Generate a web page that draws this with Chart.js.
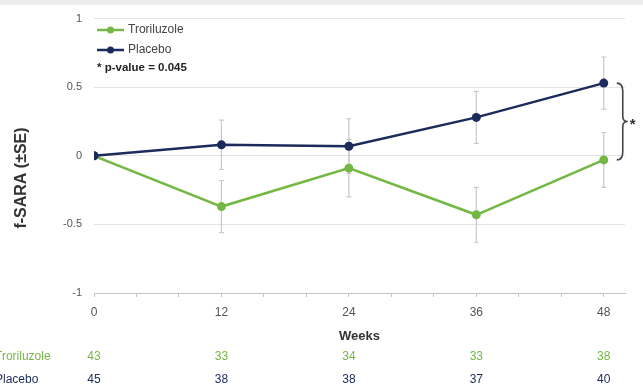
<!DOCTYPE html>
<html>
<head>
<meta charset="utf-8">
<script src="https://cdn.jsdelivr.net/npm/chart.js@4.4.1/dist/chart.umd.min.js"></script>
<style>
    html, body { margin: 0; padding: 0; background: #ffffff; }
    #wrap { width: 643px; height: 390px; position: relative; }
</style>
</head>
<body>
<div id="wrap"><canvas id="grafico"></canvas></div>
<script>
// Dados
const weeks = [0, 12, 24, 36, 48];
const placebo = [0, 0.08, 0.07, 0.28, 0.53];
const placeboSE = [0, 0.18, 0.20, 0.19, 0.19];
const troriluzole = [0, -0.37, -0.09, -0.43, -0.03];
const troriluzoleSE = [0, 0.19, 0.21, 0.20, 0.20];
const nTroriluzole = [43, 33, 34, 33, 38];
const nPlacebo = [45, 38, 38, 37, 40];
const yTicks = [-1, -0.5, 0, 0.5, 1];
const xMinorTicks = [0, 4, 8, 12, 16, 20, 24, 28, 32, 36, 40, 44, 48];

const COLORS = {
    PLACEBO: '#1b2b5b',
    TRORI: '#74b844',
    GRID: '#e4e4e4',
    AXIS: '#c4c4c4',
    ERR: '#c9c9c9',
    TEXT: '#555555',
    TITLE: '#333333'
};

const FONT = 'Liberation Sans, Arial, sans-serif';

function pontos(valores) {
    return weeks.map((w, i) => ({ x: w, y: valores[i] }));
}

// Barras de erro (±SE) desenhadas por baixo das linhas
const errorBars = {
    id: 'errorBars',
    beforeDatasetsDraw(chart) {
        const { ctx, scales: { x, y } } = chart;
        const series = [[placebo, placeboSE], [troriluzole, troriluzoleSE]];
        ctx.save();
        ctx.strokeStyle = COLORS.ERR;
        ctx.lineWidth = 1.2;
        series.forEach(([vals, se]) => {
            vals.forEach((v, i) => {
                if (!se[i]) return;
                const px = x.getPixelForValue(weeks[i]);
                const top = y.getPixelForValue(v + se[i]);
                const bot = y.getPixelForValue(v - se[i]);
                ctx.beginPath();
                ctx.moveTo(px, top); ctx.lineTo(px, bot);
                ctx.moveTo(px - 2.5, top); ctx.lineTo(px + 2.5, top);
                ctx.moveTo(px - 2.5, bot); ctx.lineTo(px + 2.5, bot);
                ctx.stroke();
            });
        });
        ctx.restore();
    }
};

// Legenda, chave com asterisco, título do eixo e tabela de pacientes
const extras = {
    id: 'extras',
    beforeDraw(chart) {
        const { ctx } = chart;
        ctx.save();
        ctx.fillStyle = '#ededed';
        ctx.fillRect(0, 0, chart.width, 5);
        ctx.restore();
    },
    afterDraw(chart) {
        const { ctx, chartArea, scales: { x, y } } = chart;
        ctx.save();

        // legenda
        const itens = [['Troriluzole', COLORS.TRORI, 30], ['Placebo', COLORS.PLACEBO, 50]];
        itens.forEach(([nome, cor, ly]) => {
            ctx.strokeStyle = cor;
            ctx.fillStyle = cor;
            ctx.lineWidth = 2.5;
            ctx.beginPath();
            ctx.moveTo(97, ly); ctx.lineTo(124, ly);
            ctx.stroke();
            ctx.beginPath();
            ctx.arc(110.5, ly, 3.5, 0, Math.PI * 2);
            ctx.fill();
            ctx.fillStyle = '#444444';
            ctx.font = '12px ' + FONT;
            ctx.textAlign = 'left';
            ctx.textBaseline = 'middle';
            ctx.fillText(nome, 128, ly);
        });
        ctx.fillStyle = '#222222';
        ctx.font = 'bold 11.5px ' + FONT;
        ctx.fillText('* p-value = 0.045', 97, 68);

        // chave entre os valores da semana 48
        const yA = y.getPixelForValue(placebo[4]);
        const yB = y.getPixelForValue(troriluzole[4]);
        const ym = (yA + yB) / 2;
        const bx = x.getPixelForValue(weeks[4]) + 13;
        ctx.strokeStyle = '#444444';
        ctx.lineWidth = 1.6;
        ctx.beginPath();
        ctx.moveTo(bx, yA);
        ctx.quadraticCurveTo(bx + 6, yA, bx + 6, yA + 8);
        ctx.lineTo(bx + 6, ym - 5);
        ctx.quadraticCurveTo(bx + 6, ym, bx + 11, ym);
        ctx.quadraticCurveTo(bx + 6, ym, bx + 6, ym + 5);
        ctx.lineTo(bx + 6, yB - 8);
        ctx.quadraticCurveTo(bx + 6, yB, bx, yB);
        ctx.stroke();
        ctx.fillStyle = '#333333';
        ctx.font = 'bold 15px ' + FONT;
        ctx.textAlign = 'left';
        ctx.fillText('*', bx + 13, ym + 3);

        // título do eixo y
        ctx.save();
        ctx.translate(22, 178);
        ctx.rotate(-Math.PI / 2);
        ctx.fillStyle = COLORS.TITLE;
        ctx.font = 'bold 16px ' + FONT;
        ctx.textAlign = 'center';
        ctx.textBaseline = 'middle';
        ctx.fillText('f-SARA (±SE)', 0, 0);
        ctx.restore();

        // título do eixo x
        ctx.fillStyle = COLORS.TITLE;
        ctx.font = 'bold 13px ' + FONT;
        ctx.textAlign = 'center';
        ctx.textBaseline = 'middle';
        ctx.fillText('Weeks', (chartArea.left + chartArea.right) / 2, 336);

        // números de pacientes
        const linhas = [['Troriluzole', nTroriluzole, COLORS.TRORI, 357], ['Placebo', nPlacebo, COLORS.PLACEBO, 380]];
        ctx.font = '12px ' + FONT;
        linhas.forEach(([nome, ns, cor, ly]) => {
            ctx.fillStyle = cor;
            ctx.textAlign = 'left';
            ctx.fillText(nome, -5, ly);
            ctx.textAlign = 'center';
            ns.forEach((n, i) => ctx.fillText(String(n), x.getPixelForValue(weeks[i]), ly));
        });

        ctx.restore();
    }
};

function criarGrafico() {
    const ctx = document.getElementById('grafico').getContext('2d');
    window.grafico = new Chart(ctx, {
        type: 'line',
        data: {
            datasets: [
                { label: 'Placebo', data: pontos(placebo), borderColor: COLORS.PLACEBO, backgroundColor: COLORS.PLACEBO, borderWidth: 2.5, pointRadius: 4.5, pointBorderWidth: 0, tension: 0 },
                { label: 'Troriluzole', data: pontos(troriluzole), borderColor: COLORS.TRORI, backgroundColor: COLORS.TRORI, borderWidth: 2.5, pointRadius: 4.5, pointBorderWidth: 0, tension: 0 }
            ]
        },
        options: {
            responsive: true,
            maintainAspectRatio: false,
            animation: false,
            layout: { padding: { top: 17, right: 18, left: 0, bottom: 0 } },
            plugins: { legend: { display: false }, tooltip: { enabled: false } },
            scales: {
                x: {
                    type: 'linear',
                    min: 0,
                    max: 50,
                    afterBuildTicks: scale => { scale.ticks = xMinorTicks.map(v => ({ value: v })); },
                    afterFit: scale => { scale.height = 97; },
                    border: { display: true, color: COLORS.AXIS, width: 1 },
                    grid: { drawOnChartArea: false, drawTicks: true, tickLength: 4, color: COLORS.AXIS },
                    ticks: {
                        autoSkip: false,
                        maxRotation: 0,
                        padding: 8,
                        color: COLORS.TEXT,
                        font: { size: 12, family: FONT },
                        callback: v => weeks.includes(v) ? String(v) : ''
                    }
                },
                y: {
                    min: -1,
                    max: 1,
                    afterBuildTicks: scale => { scale.ticks = yTicks.map(v => ({ value: v })); },
                    afterFit: scale => { scale.width = 94; },
                    border: { display: false },
                    grid: { color: v => v.tick && v.tick.value === -1 ? 'rgba(0,0,0,0)' : COLORS.GRID, drawTicks: false, lineWidth: 1 },
                    ticks: {
                        padding: 12,
                        color: COLORS.TEXT,
                        font: { size: 11, family: FONT },
                        callback: v => String(v)
                    }
                }
            }
        },
        plugins: [errorBars, extras]
    });
}

document.addEventListener('DOMContentLoaded', criarGrafico);
</script>
</body>
</html>
